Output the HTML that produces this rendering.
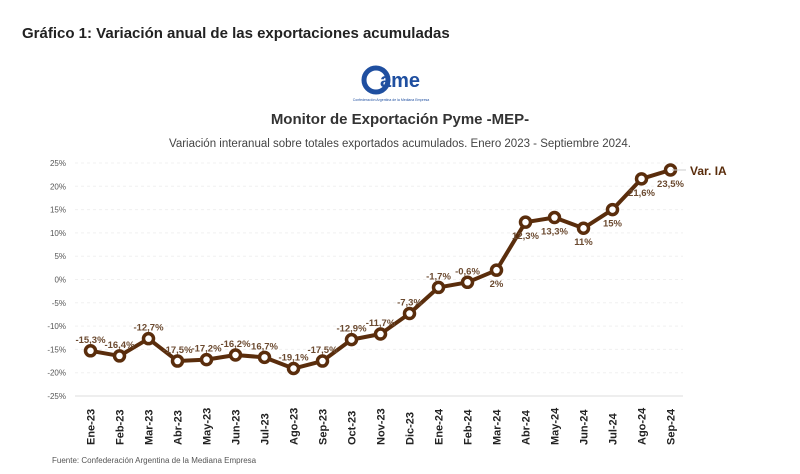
<!DOCTYPE html>
<html><head><meta charset="utf-8">
<style>
body{margin:0;background:#fff;width:800px;height:474px;overflow:hidden;font-family:"Liberation Sans",sans-serif}
svg{position:absolute;left:0;top:0}
</style></head>
<body>
<svg width="800" height="474">
<text x="22" y="38" font-size="15" font-weight="bold" fill="#222">Gráfico 1: Variación anual de las exportaciones acumuladas</text>
<g>
<circle cx="376" cy="80" r="12" fill="none" stroke="#1f4fa0" stroke-width="5"/>
<text x="380" y="87" font-size="20" font-weight="bold" fill="#1f4fa0" font-family="Liberation Sans">ame</text>
<text x="391" y="101" font-size="3.5" fill="#1f4fa0" text-anchor="middle">Confederación Argentina de la Mediana Empresa</text>
</g>
<text x="400" y="124" font-size="15" font-weight="bold" fill="#333" text-anchor="middle">Monitor de Exportación Pyme -MEP-</text>
<text x="400" y="147" font-size="11.5" fill="#444" text-anchor="middle">Variación interanual sobre totales exportados acumulados. Enero 2023 - Septiembre 2024.</text>
<g id="grid"></g><g id="xax"></g><g id="series"></g>
<text x="690" y="175" font-size="12" font-weight="bold" fill="#5a2d0c">Var. IA</text>
<line x1="672" y1="170" x2="686" y2="170" stroke="#ccc"/>
<text x="52" y="463" font-size="8" fill="#555">Fuente: Confederación Argentina de la Mediana Empresa</text>
</svg>
<script>
const categories=["Ene-23","Feb-23","Mar-23","Abr-23","May-23","Jun-23","Jul-23","Ago-23","Sep-23","Oct-23","Nov-23","Dic-23","Ene-24","Feb-24","Mar-24","Abr-24","May-24","Jun-24","Jul-24","Ago-24","Sep-24"];
const values=[-15.3,-16.4,-12.7,-17.5,-17.2,-16.2,-16.7,-19.1,-17.5,-12.9,-11.7,-7.3,-1.7,-0.6,2,12.3,13.3,11,15,21.6,23.5];
const valueLabels=["-15,3%","-16,4%","-12,7%","-17,5%","-17,2%","-16,2%","16,7%","-19,1%","-17,5%","-12,9%","-11,7%","-7,3%","-1,7%","-0,6%","2%","12,3%","13,3%","11%","15%","21,6%","23,5%"];
const yTicks=[25,20,15,10,5,0,-5,-10,-15,-20,-25];
const NS="http://www.w3.org/2000/svg";
const x=i=>90.5+i*29, y=v=>279.5-v*4.66;
function mk(t,a,p){const e=document.createElementNS(NS,t);for(const k in a)e.setAttribute(k,a[k]);p.appendChild(e);return e;}
const grid=document.getElementById('grid'),xax=document.getElementById('xax'),ser=document.getElementById('series');
yTicks.forEach(t=>{
  const l=mk('line',{x1:75,x2:683,y1:y(t),y2:y(t),stroke:t==-25?'#ddd':'#f0f0f0','stroke-dasharray':t==-25?'':'3,3'},grid);
  
  
  const tx=mk('text',{x:66,y:y(t)+3,'font-size':8,fill:'#555','text-anchor':'end'},grid);
  tx.textContent=t+'%';
  
  
});
categories.forEach((c,i)=>{
  const tx=mk('text',{transform:`translate(${x(i)+4},445) rotate(-90)`,'font-size':11,'font-weight':'bold',fill:'#222'},xax);
  tx.textContent=c;
  
  
});
const pl=mk('polyline',{points:values.map((v,i)=>x(i)+','+y(v)).join(' '),fill:'none',stroke:'#5a2d0c','stroke-width':4,'stroke-linejoin':'round'},ser);


values.forEach((v,i)=>{
  const c=mk('circle',{cx:x(i),cy:y(v),r:5,fill:'#fff',stroke:'#5a2d0c','stroke-width':3.5},ser);
  
  
  const below=i>=14;
  const tx=mk('text',{x:x(i),y:below?y(v)+17:y(v)-8,'font-size':9.5,'font-weight':'bold',fill:'#6b4a30','text-anchor':'middle'},ser);
  tx.textContent=valueLabels[i];
  
  
});
</script>
</body></html>
